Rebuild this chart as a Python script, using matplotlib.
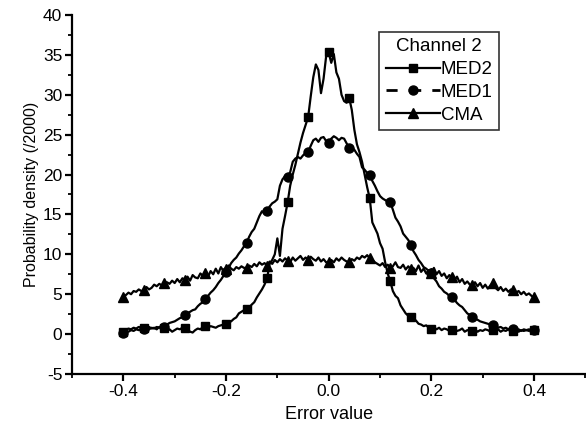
import numpy as np
import matplotlib
matplotlib.use("Agg")
import matplotlib.pyplot as plt
from matplotlib.ticker import MultipleLocator
from matplotlib.lines import Line2D

plt.rcParams['font.family'] = ['Liberation Sans', 'DejaVu Sans']
plt.rcParams['axes.unicode_minus'] = False

# x grid: -0.40 .. 0.40 in steps of 0.005 (161 samples)
error_value = np.round(np.arange(161) * 0.005 - 0.4, 3)

med2 = [
    0.3, 0.5, 0.7, 0.6, 0.8, 0.7, 0.9, 0.8, 0.8, 0.6,
    0.9, 0.7, 0.8, 0.6, 0.9, 0.8, 0.8, 0.4, 0.6, 0.3,
    0.5, 0.7, 0.6, 0.8, 0.8, 0.6, 0.3, 0.2, 0.5, 0.7,
    0.6, 0.9, 1.0, 0.8, 1.0, 0.9, 0.8, 1.0, 1.1, 1.2,
    1.3, 1.5, 1.6, 1.9, 2.1, 2.6, 2.8, 3.0, 3.2, 3.3,
    3.7, 4.0, 4.6, 5.1, 5.6, 6.2, 7.0, 8.8, 9.3, 10.0,
    12.0, 9.8, 13.2, 14.8, 16.5, 18.6, 20.0, 21.2, 22.6, 24.0,
    25.2, 26.2, 27.2, 29.8, 32.2, 33.8, 33.1, 30.2, 32.0, 34.8,
    35.3, 34.0, 35.1, 32.8, 32.0, 30.0, 29.2, 29.0, 29.6, 28.1,
    25.6, 23.8, 22.8, 21.6, 20.0, 18.4, 17.0, 14.0, 13.3, 12.6,
    11.4, 10.7, 9.0, 7.6, 6.6, 5.4, 4.8, 4.5, 3.6, 3.1,
    2.6, 2.3, 2.1, 1.9, 1.7, 1.3, 1.2, 1.0, 1.1, 0.8,
    0.7, 0.9, 0.6, 0.8, 0.5, 0.7, 0.6, 0.4, 0.5, 0.6,
    0.4, 0.5, 0.7, 0.3, 0.5, 0.4, 0.4, 0.6, 0.3, 0.5,
    0.4, 0.6, 0.5, 0.3, 0.5, 0.4, 0.6, 0.3, 0.5, 0.4,
    0.6, 0.5, 0.4, 0.6, 0.3, 0.5, 0.4, 0.5, 0.6, 0.4,
    0.5,
]

med1 = [
    0.2, 0.4, 0.3, 0.5, 0.4, 0.6, 0.5, 0.6, 0.6, 0.7,
    0.6, 0.8, 0.7, 0.9, 0.8, 1.0, 0.9, 1.2, 1.4, 1.5,
    1.6, 1.8, 2.0, 2.1, 2.4, 2.6, 2.8, 3.0, 3.1, 3.5,
    3.8, 4.0, 4.4, 4.8, 5.2, 5.5, 5.9, 6.4, 6.8, 7.3,
    7.8, 8.3, 8.9, 9.3, 9.6, 10.1, 10.5, 11.0, 11.4, 12.2,
    12.8, 13.2, 14.0, 14.8, 15.4, 15.1, 15.4, 16.0, 16.4, 16.6,
    16.9, 18.6, 19.4, 19.8, 19.7, 20.3, 21.6, 22.0, 22.2, 22.0,
    22.4, 22.7, 22.8, 23.6, 24.3, 24.5, 24.1, 24.6, 24.7, 24.2,
    23.9, 24.5, 24.8, 24.6, 24.3, 24.6, 24.5, 23.9, 23.3, 23.4,
    23.1, 22.6, 22.2, 20.9, 20.6, 20.2, 20.0, 19.2, 18.6, 17.9,
    17.3, 17.0, 16.8, 16.6, 16.5, 15.6, 14.6, 14.1, 13.5, 12.6,
    12.2, 11.8, 11.2, 10.4, 9.9, 9.3, 8.9, 8.4, 8.2, 7.9,
    7.7, 7.0, 6.6, 6.0, 5.7, 5.3, 5.1, 4.8, 4.6, 4.3,
    3.9, 3.6, 3.4, 3.0, 2.6, 2.4, 2.1, 1.9, 1.8, 1.6,
    1.5, 1.4, 1.3, 1.2, 1.1, 1.0, 0.8, 0.9, 0.7, 0.8,
    0.6, 0.7, 0.6, 0.5, 0.6, 0.4, 0.6, 0.5, 0.4, 0.6,
    0.5,
]

cma = [
    4.7, 4.9, 5.2, 5.0, 5.4, 5.3, 5.6, 5.4, 5.5, 5.9,
    5.6, 5.8, 6.2, 6.0, 6.3, 6.1, 6.4, 6.5, 6.3, 6.7,
    6.4, 6.9, 6.5, 7.0, 6.8, 7.2, 6.7, 7.4, 7.1, 7.0,
    7.6, 7.3, 7.7, 7.2, 7.9, 7.5, 8.2, 7.6, 8.4, 7.9,
    8.1, 8.6, 8.2, 8.0, 8.4, 8.2, 8.5, 8.3, 8.3, 8.6,
    8.4, 8.8, 8.5, 9.0, 8.7, 8.9, 8.6, 9.1, 8.8, 9.3,
    9.0, 9.4, 9.1, 9.5, 9.2, 9.0, 9.6, 9.2, 9.5, 9.8,
    9.3, 9.6, 9.3, 9.7, 9.4, 9.2, 9.6, 9.1, 9.4, 9.0,
    9.0, 9.3, 9.0, 9.5, 9.2, 9.6, 9.3, 9.1, 9.0, 9.4,
    9.2, 9.6, 9.4, 9.8, 9.6, 9.9, 9.5, 9.3, 9.0, 8.8,
    8.6, 8.9, 8.4, 8.7, 8.3, 8.5, 9.0, 8.4, 8.3, 8.7,
    8.1, 8.5, 8.1, 8.3, 7.9, 8.6, 7.8, 8.2, 7.6, 8.0,
    7.7, 8.3, 7.5, 7.9, 7.3, 7.6, 7.0, 7.4, 7.1, 6.8,
    7.2, 6.5, 6.9, 6.3, 6.6, 6.2, 6.1, 6.5, 6.0, 6.4,
    5.8, 6.2, 5.7, 6.1, 6.4, 5.8, 5.5, 5.9, 5.4, 5.7,
    5.3, 5.6, 5.5, 5.2, 5.4, 5.0, 5.3, 4.9, 5.1, 4.8,
    4.6,
]

legend_title = "Channel 2"
series_labels = ["MED2", "MED1", "CMA"]
x_ticks = [-0.4, -0.2, 0.0, 0.2, 0.4]
y_ticks = [-5, 0, 5, 10, 15, 20, 25, 30, 35, 40]

fig = plt.figure(figsize=(5.86, 4.30), dpi=100)
ax = fig.add_axes([0.1229, 0.1302, 0.876, 0.835])

lw = 1.6
ms = 6.5
ax.plot(error_value, med2, color='black', lw=lw, marker='s', ms=ms - 0.5,
        markevery=8, label=series_labels[0])
ax.plot(error_value, med1, color='black', lw=lw, marker='o', ms=ms,
        markevery=8, label=series_labels[1])
ax.plot(error_value, cma, color='black', lw=lw, marker='^', ms=ms + 0.5,
        markevery=8, label=series_labels[2])

ax.set_xlim(-0.5, 0.5)
ax.set_ylim(-5, 40)
ax.set_xticks(x_ticks)
ax.set_xticklabels([f"{v:.1f}" for v in x_ticks])
ax.set_yticks(y_ticks)
ax.xaxis.set_minor_locator(MultipleLocator(0.1))
ax.yaxis.set_minor_locator(MultipleLocator(2.5))

for s in ['top', 'right']:
    ax.spines[s].set_visible(False)
for s in ['left', 'bottom']:
    ax.spines[s].set_linewidth(1.6)

ax.tick_params(axis='both', which='major', direction='out', length=5,
               width=1.6, labelsize=12.5, pad=2)
ax.tick_params(axis='both', which='minor', direction='out', length=3,
               width=1.3)

ax.set_xlabel("Error value", fontsize=13, labelpad=5)
ax.set_ylabel("Probability density (/2000)", fontsize=11.5, labelpad=3)

handles = [
    Line2D([], [], color='black', lw=lw, marker='s', ms=ms - 0.5),
    Line2D([], [], color='black', lw=lw + 0.4, ls=(0.5, (4.5, 4.0)), marker='o', ms=ms),
    Line2D([], [], color='black', lw=lw, marker='^', ms=ms + 0.5),
]
leg = ax.legend(handles, series_labels, title=legend_title, loc='upper left',
                bbox_to_anchor=(0.598, 0.953), fontsize=13.5,
                title_fontsize=13.5, frameon=True, fancybox=False,
                handlelength=2.9, handletextpad=0.05, borderpad=0.35,
                labelspacing=0.3, borderaxespad=0)
leg.get_frame().set_edgecolor('black')
leg.get_frame().set_linewidth(1.2)

fig.savefig("out.png", dpi=100)
